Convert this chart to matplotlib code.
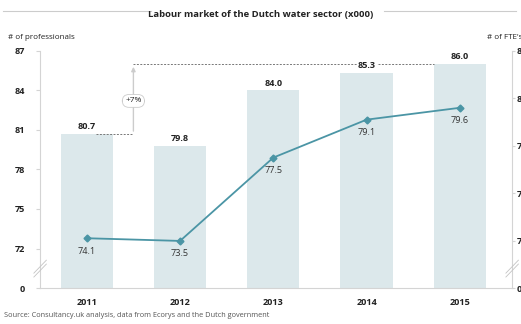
import numpy as np
import matplotlib.pyplot as plt
from matplotlib.lines import Line2D

plt.rcParams["font.family"] = ["Open Sans", "DejaVu Sans"]

years = ["2011", "2012", "2013", "2014", "2015"]
professionals = [80.7, 79.8, 84.0, 85.3, 86.0]
fte = [74.1, 73.5, 77.5, 79.1, 79.6]
left_ticks = [0, 72, 75, 78, 81, 84, 87]
right_ticks = [0, 74, 76, 78, 80, 82]

bar_color = "#dce8eb"
line_color = "#4b95a5"
axis_gray = "#d4d4d4"
text_dark = "#222222"


# broken axes: squeeze everything below the first real tick into one step
def left_fwd(v):
    v = np.asarray(v, dtype=float)
    return np.where(v < 72, v / 72, 1 + (v - 72) / 3)


def left_inv(p):
    p = np.asarray(p, dtype=float)
    return np.where(p < 1, p * 72, 72 + (p - 1) * 3)


def right_fwd(v):
    v = np.asarray(v, dtype=float)
    return np.where(v < 74, v / 74, 1 + (v - 74) / 2)


def right_inv(p):
    p = np.asarray(p, dtype=float)
    return np.where(p < 1, p * 74, 74 + (p - 1) * 2)


fig = plt.figure(figsize=(5.21, 3.24), dpi=100)
ax = fig.add_axes([0.077, 0.111, 0.906, 0.732])
ax.set_yscale("function", functions=(left_fwd, left_inv))
ax.set_ylim(0, 87)
x = np.arange(len(years))
ax.set_xlim(-0.5, 4.56)

bars = ax.bar(x, professionals, width=0.56, color=bar_color, zorder=1)
for xi, v in zip(x, professionals):
    ax.annotate(f"{v:.1f}", (xi, v), xytext=(0, 2), textcoords="offset points",
                ha="center", va="bottom", fontsize=6.6, fontweight="bold",
                color=text_dark, zorder=5,
                bbox=dict(boxstyle="square,pad=0.1", fc="white", ec="none"))

ax.set_yticks(left_ticks)
ax.set_yticklabels([str(t) for t in left_ticks])
ax.set_xticks(x)
ax.set_xticklabels(years)
ax.tick_params(axis="y", labelsize=6.6, length=3, color=axis_gray, pad=8,
               labelcolor=text_dark)
ax.tick_params(axis="x", labelsize=6.6, length=0, pad=7, labelcolor=text_dark)
for lab in ax.get_xticklabels() + ax.get_yticklabels():
    lab.set_fontweight("bold")
for side in ["top", "right"]:
    ax.spines[side].set_visible(False)
ax.spines["left"].set_color(axis_gray)
ax.spines["bottom"].set_color(axis_gray)
ax.spines["left"].set_linewidth(0.8)
ax.spines["bottom"].set_linewidth(0.8)

# growth bracket between 2011 and 2015
ax.plot([0.1, 0.5], [professionals[0]] * 2, ls=(0, (2, 1.5)), lw=0.7,
        color="#777777", zorder=2)
ax.plot([0.5, 3.72], [professionals[-1]] * 2, ls=(0, (2, 1.5)), lw=0.7,
        color="#777777", zorder=2)
ax.annotate("", xy=(0.5, professionals[-1]), xytext=(0.5, professionals[0]),
            arrowprops=dict(arrowstyle="-|>", color="#cccccc", lw=1.0,
                            mutation_scale=6), zorder=2)
growth = (professionals[-1] / professionals[0] - 1) * 100
ax.text(0.5, 83.2, f"+{growth:.0f}%", ha="center", va="center", fontsize=6,
        color=text_dark, zorder=4,
        bbox=dict(boxstyle="round,pad=0.35,rounding_size=0.8", fc="white",
                  ec="#cccccc", lw=0.6))

ax2 = ax.twinx()
ax2.set_yscale("function", functions=(right_fwd, right_inv))
ax2.set_ylim(0, 82)
ax2.plot(x, fte, color=line_color, lw=1.3, marker="D", ms=3.5, zorder=3)
for xi, v in zip(x, fte):
    ax2.annotate(f"{v:.1f}", (xi, v), xytext=(0, -6), textcoords="offset points",
                 ha="center", va="top", fontsize=6.6, color="#333333")
ax2.set_yticks(right_ticks)
ax2.set_yticklabels([str(t) for t in right_ticks])
ax2.tick_params(axis="y", labelsize=6.6, length=2, color=axis_gray, pad=1,
                labelcolor=text_dark)
for lab in ax2.get_yticklabels():
    lab.set_fontweight("bold")
for side in ["top", "left", "bottom"]:
    ax2.spines[side].set_visible(False)
ax2.spines["right"].set_color(axis_gray)
ax2.spines["right"].set_linewidth(0.8)

# break marks on both value axes
for xf in [0.077, 0.983]:
    for dy in [0, 0.012]:
        fig.add_artist(Line2D([xf - 0.012, xf + 0.012],
                              [0.145 + dy, 0.185 + dy],
                              transform=fig.transFigure, color="#c4c4c4",
                              lw=0.6))

fig.text(0.5, 0.955, "Labour market of the Dutch water sector (x000)",
         ha="center", va="center", fontsize=6.8, fontweight="bold",
         color=text_dark)
fig.add_artist(Line2D([0.005, 0.29], [0.965, 0.965], transform=fig.transFigure,
                      color="#cccccc", lw=0.8))
fig.add_artist(Line2D([0.738, 0.99], [0.965, 0.965], transform=fig.transFigure,
                      color="#cccccc", lw=0.8))

fig.text(0.015, 0.885, "# of professionals", ha="left", va="center",
         fontsize=5.8, color=text_dark)
fig.text(0.935, 0.885, "# of FTE's", ha="left", va="center",
         fontsize=5.8, color=text_dark)
fig.text(0.008, 0.015, "Source: Consultancy.uk analysis, data from Ecorys and "
         "the Dutch government", ha="left", va="bottom", fontsize=5.3,
         color="#555555")

fig.savefig("out.png", dpi=100)
